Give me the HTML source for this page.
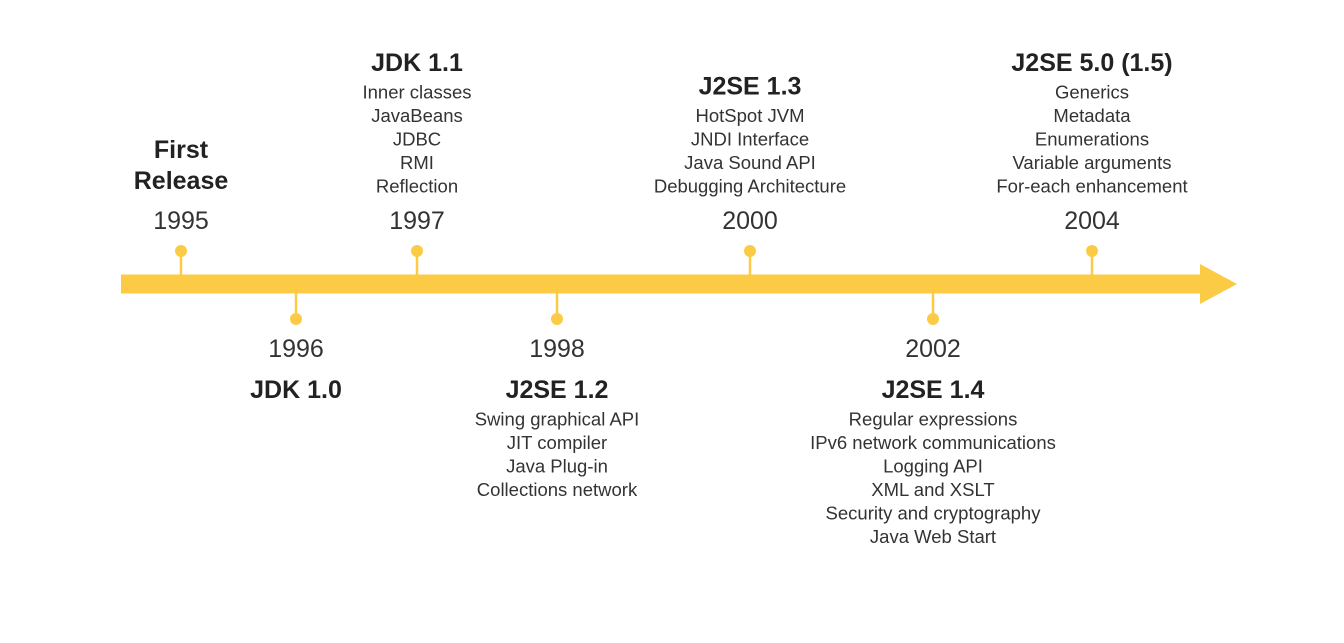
<!DOCTYPE html>
<html><head><meta charset="utf-8"><style>
html,body{margin:0;padding:0;background:#fff;}
svg text{font-family:"Liberation Sans",sans-serif;fill:#222;text-anchor:middle;dominant-baseline:central;}
.yr{font-size:25px;fill:#333;}
.tt{font-size:25px;font-weight:bold;}
.it{font-size:18.5px;fill:#333;}
</style></head><body>
<svg id="chart" width="1344" height="638" viewBox="0 0 1344 638" xmlns="http://www.w3.org/2000/svg">
<rect x="121" y="274.5" width="1081" height="19" fill="#fccb45"/>
<polygon points="1200,264 1237,284 1200,304" fill="#fccb45"/>
<g id="events"></g>
</svg>
<script>
const years=["1995","1996","1997","1998","2000","2002","2004"];
const titles=[["First","Release"],["JDK 1.0"],["JDK 1.1"],["J2SE 1.2"],["J2SE 1.3"],["J2SE 1.4"],["J2SE 5.0 (1.5)"]];
const features=[[],[],["Inner classes","JavaBeans","JDBC","RMI","Reflection"],["Swing graphical API","JIT compiler","Java Plug-in","Collections network"],["HotSpot JVM","JNDI Interface","Java Sound API","Debugging Architecture"],["Regular expressions","IPv6 network communications","Logging API","XML and XSLT","Security and cryptography","Java Web Start"],["Generics","Metadata","Enumerations","Variable arguments","For-each enhancement"]];
const sides=["up","down","up","down","up","down","up"];
const axisPos=[1995.0,1996.15,1997.36,1998.76,2000.69,2002.52,2004.11];
const x=v=>181+(v-1995)*100;
const NS="http://www.w3.org/2000/svg";
const g=document.getElementById('events');
function mk(tag,attrs,txt){const e=document.createElementNS(NS,tag);for(const k in attrs)e.setAttribute(k,attrs[k]);if(txt!==undefined)e.textContent=txt;g.appendChild(e);return e;}
years.forEach((y,i)=>{
 const cx=x(axisPos[i]);const up=sides[i]==="up";
 const dy=up?251:319;
 const st=mk('line',{x1:cx,x2:cx,y1:up?dy:284,y2:up?284:dy,stroke:'#fccb45','stroke-width':2.5});
 
 
 const d=mk('circle',{cx:cx,cy:dy,r:6,fill:'#fccb45'});
 
 
 const yt=mk('text',{x:cx,y:up?221:349,class:'yr'},y);
 
 
 const f=features[i];const t=titles[i];
 if(up){
  let tTop;
  if(f.length){const first=186-(f.length-1)*23.5;tTop=first-29;
   f.forEach((s,j)=>{const e=mk('text',{x:cx,y:first+j*23.5,class:'it'},s);
    
    });
  }else{tTop=181-(t.length-1)*31;}
  t.forEach((s,j)=>{const e=mk('text',{x:cx,y:tTop+j*31,class:'tt'},s);
   
   });
 }else{
  t.forEach((s,j)=>{const e=mk('text',{x:cx,y:390+j*31,class:'tt'},s);
   
   });
  f.forEach((s,j)=>{const e=mk('text',{x:cx,y:419+j*23.5,class:'it'},s);
   
   });
 }
});
</script>
</body></html>
